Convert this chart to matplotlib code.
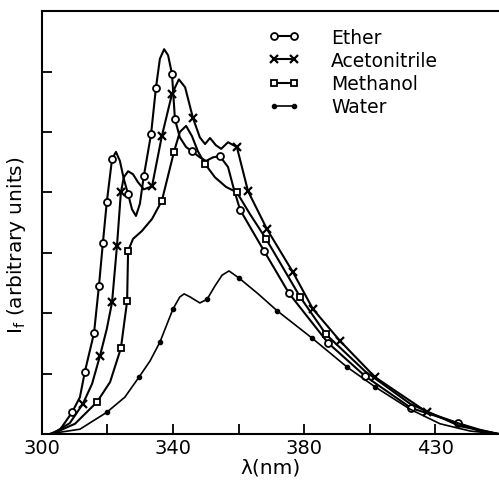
import matplotlib
matplotlib.use("Agg")
import matplotlib.pyplot as plt
from matplotlib.legend_handler import HandlerLine2D
from matplotlib.lines import Line2D

# ---- data (wavelength in nm, intensity in arbitrary units) ----
ether_x = [302.4, 305.5, 309.2, 311.6, 313.1, 315.9, 317.4, 318.6, 319.8, 321.4, 322.6, 323.8,
           325.0, 326.3, 327.5, 328.7, 329.9, 331.1, 333.3, 334.8, 336.0, 337.3, 338.5, 339.7,
           340.6, 342.1, 344.0, 345.8, 348.2, 350.1, 352.2, 354.3, 356.8, 358.6, 360.5, 363.5,
           367.8, 375.4, 387.3, 398.6, 412.7, 427.0, 433.7, 439.5]
ether_y = [0.0, 0.07, 0.36, 0.61, 1.03, 1.67, 2.45, 3.16, 3.84, 4.55, 4.67, 4.52,
           4.22, 3.97, 3.72, 3.61, 3.81, 4.27, 4.96, 5.73, 6.21, 6.37, 6.27, 5.96,
           5.21, 4.91, 4.75, 4.68, 4.58, 4.52, 4.58, 4.60, 4.42, 4.05, 3.71, 3.43,
           3.03, 2.33, 1.51, 0.96, 0.43, 0.18, 0.07, 0.0]
ether_marks = [2, 4, 5, 6, 7, 8, 9, 13, 17, 18, 19, 23, 24, 27, 31, 34, 36, 37, 38, 39, 40, 41]

aceto_x = [303.0, 308.5, 312.5, 315.3, 317.7, 319.8, 321.4, 322.9, 324.1, 325.0, 326.3, 327.8,
           329.3, 331.1, 333.6, 336.6, 339.7, 341.8, 343.7, 346.1, 348.2, 349.8, 351.3, 353.1,
           354.7, 356.8, 359.5, 362.9, 368.7, 376.6, 382.7, 391.0, 401.7, 417.6, 433.7, 439.5]
aceto_y = [0.0, 0.18, 0.50, 0.83, 1.29, 1.74, 2.18, 3.11, 4.00, 4.25, 4.35, 4.30,
           4.17, 4.05, 4.10, 4.93, 5.63, 5.87, 5.74, 5.23, 4.91, 4.80, 4.90, 4.78,
           4.72, 4.83, 4.75, 4.02, 3.39, 2.68, 2.07, 1.54, 0.94, 0.36, 0.05, 0.0]
aceto_marks = [2, 4, 6, 7, 8, 14, 15, 16, 19, 26, 27, 28, 29, 30, 31, 32, 33]

meth_x = [303.0, 310.1, 316.8, 320.8, 324.1, 326.0, 326.3, 327.8, 330.5, 333.6, 336.6, 340.3,
          342.1, 344.0, 345.8, 347.6, 349.8, 352.8, 356.2, 359.5, 363.5, 368.4, 378.8, 386.7,
          398.6, 412.4, 427.6, 439.5]
meth_y = [0.0, 0.17, 0.53, 0.86, 1.42, 2.20, 3.03, 3.23, 3.36, 3.56, 3.86, 4.67,
          5.00, 5.10, 4.93, 4.68, 4.47, 4.25, 4.09, 4.00, 3.64, 3.23, 2.27, 1.65,
          1.04, 0.50, 0.13, 0.0]
meth_marks = [2, 4, 5, 6, 10, 11, 16, 19, 21, 22, 23]

water_x = [301.8, 311.6, 319.8, 325.3, 329.6, 333.0, 336.0, 340.0, 342.1, 343.4, 345.2, 348.2,
           350.4, 352.8, 355.0, 357.1, 360.2, 366.0, 371.8, 382.4, 393.1, 401.7, 412.4, 421.5,
           430.7, 439.5]
water_y = [0.0, 0.08, 0.36, 0.61, 0.94, 1.21, 1.52, 2.07, 2.27, 2.32, 2.27, 2.17,
           2.23, 2.45, 2.63, 2.70, 2.58, 2.32, 2.04, 1.59, 1.11, 0.78, 0.41, 0.17,
           0.05, 0.0]
water_marks = [2, 4, 6, 7, 12, 16, 18, 19, 20, 21]

series_names = ["Ether", "Acetonitrile", "Methanol", "Water"]

tick_positions = [300, 320, 340, 360, 380, 400, 420]
tick_labels = ["300", "", "340", "", "380", "", "430"]
ytick_positions = [1, 2, 3, 4, 5, 6]

FS = 14

# ---- figure ----
fig = plt.figure(figsize=(4.99, 4.85), dpi=100)
ax = fig.add_axes([0.084, 0.103, 0.916, 0.872])

lw = 1.5
ax.plot(ether_x, ether_y, color="black", lw=lw, marker="o", ms=5, mfc="white",
        mec="black", mew=1.3, markevery=ether_marks, label=series_names[0])
ax.plot(aceto_x, aceto_y, color="black", lw=lw, marker="x", ms=6, mec="black",
        mew=1.6, markevery=aceto_marks, label=series_names[1])
ax.plot(meth_x, meth_y, color="black", lw=lw, marker="s", ms=4.5, mfc="white",
        mec="black", mew=1.3, markevery=meth_marks, label=series_names[2])
ax.plot(water_x, water_y, color="black", lw=1.2, marker="o", ms=3, mfc="black",
        mec="black", markevery=water_marks, label=series_names[3])

ax.set_xlim(300, 439.5)
ax.set_ylim(0, 7.0)

ax.set_xticks(tick_positions)
ax.set_xticklabels(tick_labels, fontsize=FS)
ax.set_yticks(ytick_positions)
ax.set_yticklabels([])
ax.tick_params(axis="both", direction="in", length=7, width=1.3)
ax.tick_params(axis="x", pad=3)

for side in ["left", "bottom", "top"]:
    ax.spines[side].set_linewidth(1.5)
ax.spines["right"].set_visible(False)

ax.set_xlabel("λ(nm)", fontsize=FS + 0.5, labelpad=0)
ax.set_ylabel("I$_\\mathregular{f}$ (arbitrary units)", fontsize=FS + 0.5)
ax.yaxis.set_label_coords(-0.031, 0.45)

leg = ax.legend(loc="upper left", bbox_to_anchor=(0.46, 0.978), frameon=False,
                numpoints=2, handlelength=2.6, handletextpad=1.2, labelspacing=0.22,
                fontsize=FS - 0.5, borderaxespad=0.0,
                handler_map={Line2D: HandlerLine2D(marker_pad=0.75, numpoints=2)})

fig.savefig("out.png", dpi=100)
